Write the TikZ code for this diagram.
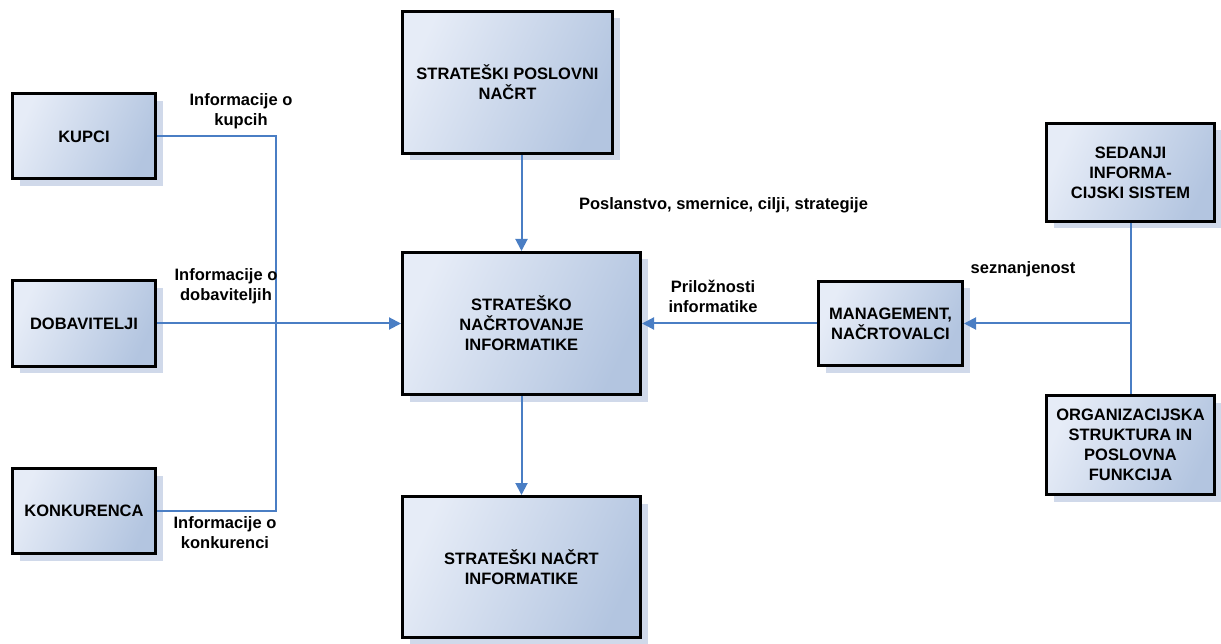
\documentclass[tikz,border=0pt]{standalone}
\usepackage{fontspec}
\setmainfont{Liberation Sans}
\usetikzlibrary{arrows.meta,calc}
\definecolor{boxlight}{HTML}{E6ECF7}
\definecolor{boxdark}{HTML}{B3C5E0}
\definecolor{shadowc}{HTML}{D0D9EA}
\definecolor{linkc}{HTML}{4A7EC4}
\tikzset{
  x=1pt, y=-1pt,
  boxnode/.style={draw=black, line width=3pt, top color=boxlight, bottom color=boxdark,
    shading angle=65, align=center, inner sep=2pt,
    font=\bfseries\fontsize{16.5}{20}\selectfont},
  shadowbox/.style={fill=shadowc},
  link/.style={draw=linkc, line width=2pt},
  arrowlink/.style={link, -{Triangle[length=12pt,width=12pt]}},
  lbl/.style={align=center, font=\bfseries\fontsize{16.5}{20}\selectfont, inner sep=0pt}
}
% a box with its soft offset shadow: centre, width, height, name, text
\newcommand{\diagbox}[5]{%
  \fill[shadowbox] ($(#1)+(-#2/2+7,-#3/2+7)$) rectangle ($(#1)+(#2/2+7,#3/2+7)$);
  \node[boxnode, minimum width=#2 pt, minimum height=#3 pt] (#4) at (#1) {#5};
}
\begin{document}
\begin{tikzpicture}
\useasboundingbox (0,0) rectangle (1221,644);

\diagbox{84,136.5}{143}{85}{kupci}{KUPCI}
\diagbox{84,323.5}{143}{85}{dobav}{DOBAVITELJI}
\diagbox{84,511}{143}{85}{konk}{KONKURENCA}
\diagbox{507.5,82.5}{210}{142}{spn}{STRATEŠKI POSLOVNI\\NAČRT}
\diagbox{521.5,323.5}{238}{142}{sni}{STRATEŠKO\\NAČRTOVANJE\\INFORMATIKE}
\diagbox{521.5,567}{238}{141}{snacrt}{STRATEŠKI NAČRT\\INFORMATIKE}
\diagbox{890.5,323.5}{144}{84}{mgmt}{MANAGEMENT,\\NAČRTOVALCI}
\diagbox{1130.5,172.5}{168}{98}{sedanji}{SEDANJI\\INFORMA-\\CIJSKI SISTEM}
\diagbox{1130.5,445}{168}{99}{org}{ORGANIZACIJSKA\\STRUKTURA IN\\POSLOVNA\\FUNKCIJA}

% joins of the information flows
\coordinate (jtop) at (276,136.5);
\coordinate (jbot) at (276,511);
\coordinate (jright) at (sedanji.south |- mgmt.east);

\draw[link] (kupci.east) -- (jtop) -- (jbot) -- (konk.east);
\draw[arrowlink] (dobav.east) -- (sni.west);
\draw[arrowlink] (spn.south -| sni.north) -- (sni.north);
\draw[arrowlink] (sni.south) -- (snacrt.north);
\draw[arrowlink] (mgmt.west) -- (sni.east |- mgmt.west);
\draw[link] (sedanji.south) -- (org.north);
\draw[arrowlink] (jright) -- (mgmt.east);

\node[lbl] (l1) at (241,111) {Informacije o\\kupcih};
\node[lbl] (l2) at (226,286) {Informacije o\\dobaviteljih};
\node[lbl] (l3) at (225,533) {Informacije o\\konkurenci};
\node[lbl] (l4) at (723.5,205) {Poslanstvo, smernice, cilji, strategije};
\node[lbl] (l5) at (713,296) {Priložnosti\\informatike};
\node[lbl] (l6) at (1023,269) {seznanjenost};
\end{tikzpicture}
\end{document}
